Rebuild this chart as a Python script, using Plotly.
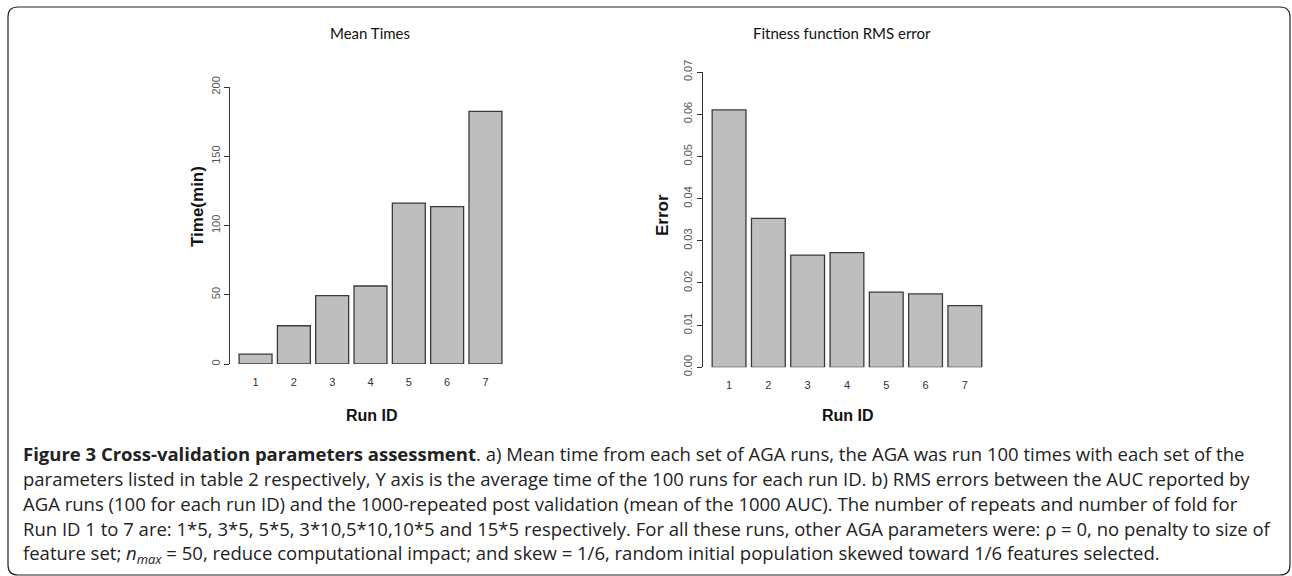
import re
import plotly.graph_objects as go

W, H = 1292, 576

run_ids = ["1", "2", "3", "4", "5", "6", "7"]
mean_times = [7.2, 27.6, 49.3, 56.3, 116.2, 113.6, 182.4]
rms_error = [0.0610, 0.0353, 0.0266, 0.0272, 0.0178, 0.0174, 0.0146]

time_ticks = [0, 50, 100, 150, 200]
error_ticks = [0.00, 0.01, 0.02, 0.03, 0.04, 0.05, 0.06, 0.07]
error_tick_text = ["0.00", "0.01", "0.02", "0.03", "0.04", "0.05", "0.06", "0.07"]

title_left = "Mean Times"
title_right = "Fitness function RMS error"
ylab_left = "Time(min)"
ylab_right = "Error"
xlab = "Run ID"

caption_lines = [
    "<b>Figure 3 Cross-validation parameters assessment</b>. a) Mean time from each set of AGA runs, the AGA was run 100 times with each set of the",
    "parameters listed in table 2 respectively, Y axis is the average time of the 100 runs for each run ID. b) RMS errors between the AUC reported by",
    "AGA runs (100 for each run ID) and the 1000-repeated post validation (mean of the 1000 AUC). The number of repeats and number of fold for",
    "Run ID 1 to 7 are: 1*5, 3*5, 5*5, 3*10,5*10,10*5 and 15*5 respectively. For all these runs, other AGA parameters were: ρ = 0, no penalty to size of",
    "feature set; <i>n</i><sub><i>max</i></sub> = 50, reduce computational impact; and skew = 1/6, random initial population skewed toward 1/6 features selected.",
]


def px(x):
    return x / W


def py(y):
    return 1 - y / H


BAR_FILL = "#bebebe"
BAR_LINE = "#3a3a3a"
AX = "#333333"

fig = go.Figure()
fig.add_trace(go.Bar(x=run_ids, y=mean_times, xaxis="x", yaxis="y",
                     marker=dict(color=BAR_FILL, line=dict(color=BAR_LINE, width=1.3)),
                     showlegend=False, hoverinfo="skip"))
fig.add_trace(go.Bar(x=run_ids, y=rms_error, xaxis="x2", yaxis="y2",
                     marker=dict(color=BAR_FILL, line=dict(color=BAR_LINE, width=1.3)),
                     showlegend=False, hoverinfo="skip"))

xcommon = dict(showline=False, showgrid=False, zeroline=False, ticks="",
               tickfont=dict(family="Liberation Sans", size=11, color="#333"),
               ticklabelstandoff=10, fixedrange=True, automargin=False)
ycommon = dict(showline=True, linecolor=AX, linewidth=1, showgrid=False, zeroline=False,
               ticks="outside", ticklen=5, tickcolor=AX, tickwidth=1, tickangle=-90,
               tickfont=dict(family="Liberation Sans", size=11, color="#555"),
               anchor="free", fixedrange=True, automargin=False)

fig.update_layout(
    width=W, height=H, autosize=False,
    margin=dict(l=0, r=0, t=0, b=0, pad=0, autoexpand=False),
    paper_bgcolor="white", plot_bgcolor="white",
    bargap=0.14,
    xaxis=dict(domain=[px(236.4), px(504.6)], anchor="y", **xcommon),
    yaxis=dict(domain=[py(364), py(87)], range=[0, 200], tickvals=time_ticks,
               position=px(229), **ycommon),
    xaxis2=dict(domain=[px(709.4), px(984.5)], anchor="y2", **xcommon),
    yaxis2=dict(domain=[py(367.3), py(72)], range=[0, 0.07], tickvals=error_ticks,
                ticktext=error_tick_text, position=px(701.7), **ycommon),
)

ann = []
tfont = dict(family="Lato", size=15, color="#111")
ann.append(dict(text=title_left, x=px(370), y=py(33), font=tfont))
ann.append(dict(text=title_right, x=px(842), y=py(33), font=tfont))
lfont = dict(family="Liberation Sans", size=17, color="#111")
ann.append(dict(text="<b>%s</b>" % ylab_left, x=px(197), y=py(207), textangle=-90, font=lfont))
ann.append(dict(text="<b>%s</b>" % ylab_right, x=px(663), y=py(215), textangle=-90, font=lfont))
xfont = dict(family="Liberation Sans", size=16, color="#111")
ann.append(dict(text="<b>%s</b>" % xlab, x=px(372), y=py(415), font=xfont))
ann.append(dict(text="<b>%s</b>" % xlab, x=px(848), y=py(415), font=xfont))

cap_y = [453, 478, 503, 528, 554]
for line, yy in zip(caption_lines, cap_y):
    ann.append(dict(text=line, x=px(21), y=py(yy), xanchor="left",
                    font=dict(family="Open Sans", size=18.5, color="#222")))

for a in ann:
    a.setdefault("xanchor", "center")
    a.update(xref="paper", yref="paper", yanchor="middle", showarrow=False)
fig.update_layout(annotations=ann)

# rounded frame around the figure (pixel path converted to paper coords)
L, T, R, B, r = 8, 7, 1290, 575, 10
path = (f"M {L + r},{T} L {R - r},{T} Q {R},{T} {R},{T + r} "
        f"L {R},{B - r} Q {R},{B} {R - r},{B} "
        f"L {L + r},{B} Q {L},{B} {L},{B - r} L {L},{T + r} Q {L},{T} {L + r},{T} Z")


def conv(m):
    a, b = float(m.group(1)), float(m.group(2))
    return f"{px(a):.5f},{py(b):.5f}"


paper_path = re.sub(r"([\d.]+),([\d.]+)", conv, path)
fig.add_shape(type="path", path=paper_path, xref="paper", yref="paper",
              line=dict(color="#222", width=1.2))

post = ("document.body.style.margin='0';document.body.style.padding='0';"
        "document.documentElement.style.overflow='hidden';document.body.style.overflow='hidden';")
fig.write_html("out.html", post_script=post, config={"displayModeBar": False})
